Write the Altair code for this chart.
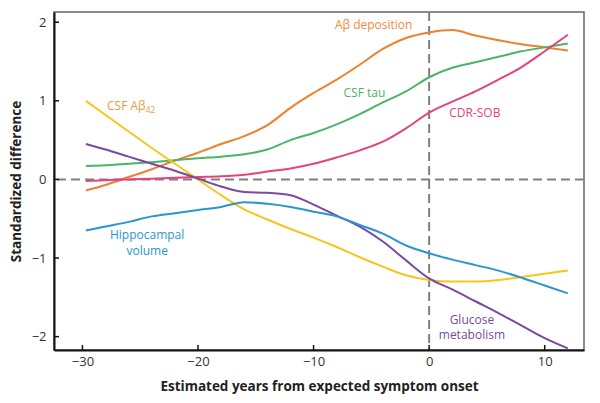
import altair as alt
import pandas as pd

# ---- data ----
x_common = [-29.7, -28, -26, -24, -22, -20, -18, -16, -14, -12, -10, -8, -6, -4, -2, 0, 2, 4, 6, 8, 10, 12]

abeta_dep = [-0.14, -0.07, 0.03, 0.13, 0.24, 0.34, 0.45, 0.55, 0.69, 0.91, 1.10, 1.27, 1.46, 1.66, 1.80, 1.87, 1.90, 1.83, 1.77, 1.72, 1.68, 1.64]
csf_tau = [0.17, 0.18, 0.20, 0.22, 0.245, 0.27, 0.29, 0.32, 0.38, 0.50, 0.59, 0.70, 0.83, 0.98, 1.12, 1.30, 1.42, 1.49, 1.56, 1.63, 1.68, 1.73]
cdr_sob = [-0.02, -0.01, 0.0, 0.01, 0.02, 0.03, 0.04, 0.06, 0.10, 0.14, 0.20, 0.28, 0.37, 0.48, 0.65, 0.85, 0.99, 1.12, 1.27, 1.43, 1.63, 1.84]
csf_ab42 = [1.00, 0.82, 0.61, 0.40, 0.20, 0.0, -0.20, -0.38, -0.51, -0.63, -0.74, -0.86, -0.99, -1.11, -1.22, -1.28, -1.30, -1.30, -1.28, -1.24, -1.20, -1.16]
glucose = [0.45, 0.38, 0.29, 0.20, 0.11, 0.01, -0.09, -0.16, -0.17, -0.20, -0.32, -0.46, -0.60, -0.79, -1.03, -1.26, -1.40, -1.55, -1.70, -1.86, -2.02, -2.15]
hippo = [-0.65, -0.60, -0.54, -0.47, -0.43, -0.39, -0.35, -0.29, -0.31, -0.35, -0.41, -0.47, -0.58, -0.69, -0.84, -0.94, -1.02, -1.09, -1.16, -1.25, -1.35, -1.45]

series_names = ["Aβ deposition", "CSF tau", "CDR-SOB", "CSF Aβ42", "Glucose metabolism", "Hippocampal volume"]
series_values = [abeta_dep, csf_tau, cdr_sob, csf_ab42, glucose, hippo]
series_colors = ["#F07F2E", "#4BB567", "#E6427F", "#F7C51C", "#7A4A9E", "#2A96CF"]

x_ticks = [-30, -20, -10, 0, 10]
y_ticks = [-2, -1, 0, 1, 2]

label_text = ["Aβ deposition", "CSF tau", "CDR-SOB", "CSF Aβ", "Hippocampal", "volume", "Glucose", "metabolism"]
label_x = [-4.8, -5.6, 3.95, -26.2, -24.4, -24.4, 3.7, 3.7]
label_y = [1.96, 1.10, 0.85, 0.94, -0.71, -0.905, -1.785, -1.98]
label_color = ["#F08A3C", "#4BB567", "#E6427F", "#E89A47", "#2A96CF", "#2A96CF", "#7A4A9E", "#7A4A9E"]

sub_text = ["42"]
sub_x = [-24.55]
sub_y = [0.885]

# ---- build tables ----
rows = []
for name, vals in zip(series_names, series_values):
    for xv, yv in zip(x_common, vals):
        rows.append({"x": xv, "y": yv, "series": name})
df = pd.DataFrame(rows)

labels = pd.DataFrame({"x": label_x, "y": label_y, "text": label_text, "color": label_color})
subs = pd.DataFrame({"x": sub_x, "y": sub_y, "text": sub_text})

W, H = 530, 338
xs = alt.Scale(domain=[-32.46, 13.4], nice=False, zero=False)
ys = alt.Scale(domain=[-2.17, 2.13], nice=False, zero=False)
FONT = "Open Sans"

xaxis = alt.Axis(values=x_ticks, format="d", ticks=False, grid=False, title="Estimated years from expected symptom onset",
                 labelFontSize=13, labelColor="#333", labelFont=FONT, labelPadding=5,
                 titleFont=FONT, titleFontSize=13.5, titleFontWeight="bold", titleColor="#222",
                 titleX=W / 2, titleY=36, titleBaseline="middle", titleAlign="center",
                 domainColor="#111", domainWidth=2)
yaxis = alt.Axis(values=y_ticks, format="d", ticks=False, grid=False, title="Standardized difference",
                 labelFontSize=13, labelColor="#333", labelFont=FONT, labelPadding=8,
                 titleFont=FONT, titleFontSize=13.5, titleFontWeight="bold", titleColor="#222",
                 titleX=-38, titleY=H / 2, titleAngle=270, titleBaseline="middle", titleAlign="center",
                 domainColor="#111", domainWidth=2)

base = alt.Chart(df)

zero_h = alt.Chart(pd.DataFrame({"y": [0]})).mark_rule(color="#808080", strokeWidth=2, strokeDash=[9, 5]).encode(
    y=alt.Y("y:Q", scale=ys, axis=yaxis))
zero_v = alt.Chart(pd.DataFrame({"x": [0]})).mark_rule(color="#808080", strokeWidth=2, strokeDash=[9, 5]).encode(
    x=alt.X("x:Q", scale=xs, axis=xaxis))

lines = base.mark_line(strokeWidth=2, interpolate="monotone").encode(
    x=alt.X("x:Q", scale=xs, axis=xaxis),
    y=alt.Y("y:Q", scale=ys, axis=yaxis),
    color=alt.Color("series:N", scale=alt.Scale(domain=series_names, range=series_colors), legend=None),
    detail="series:N",
)

xtick_layer = alt.Chart(pd.DataFrame({"x": x_ticks})).mark_rule(color="#111", strokeWidth=1.5).encode(
    x=alt.X("x:Q", scale=xs), y=alt.value(H), y2=alt.value(H - 5))
ytick_layer = alt.Chart(pd.DataFrame({"y": y_ticks})).mark_rule(color="#111", strokeWidth=1.5).encode(
    y=alt.Y("y:Q", scale=ys), x=alt.value(0), x2=alt.value(5))

text_layer = alt.Chart(labels).mark_text(font=FONT, fontSize=12, align="center", baseline="middle").encode(
    x=alt.X("x:Q", scale=xs), y=alt.Y("y:Q", scale=ys), text="text:N",
    color=alt.Color("color:N", scale=None))
sub_layer = alt.Chart(subs).mark_text(font=FONT, fontSize=8.5, align="left", baseline="middle", color="#E89A47").encode(
    x=alt.X("x:Q", scale=xs), y=alt.Y("y:Q", scale=ys), text="text:N")

chart = alt.layer(zero_h, zero_v, lines, xtick_layer, ytick_layer, text_layer, sub_layer).properties(
    width=W, height=H,
    autosize=alt.AutoSizeParams(type="none"),
    padding={"left": 46, "top": 4, "right": 8, "bottom": 45},
).configure_view(stroke="#666", strokeWidth=1.5)

chart.save("out.html", embed_options={"renderer": "svg", "actions": False})
